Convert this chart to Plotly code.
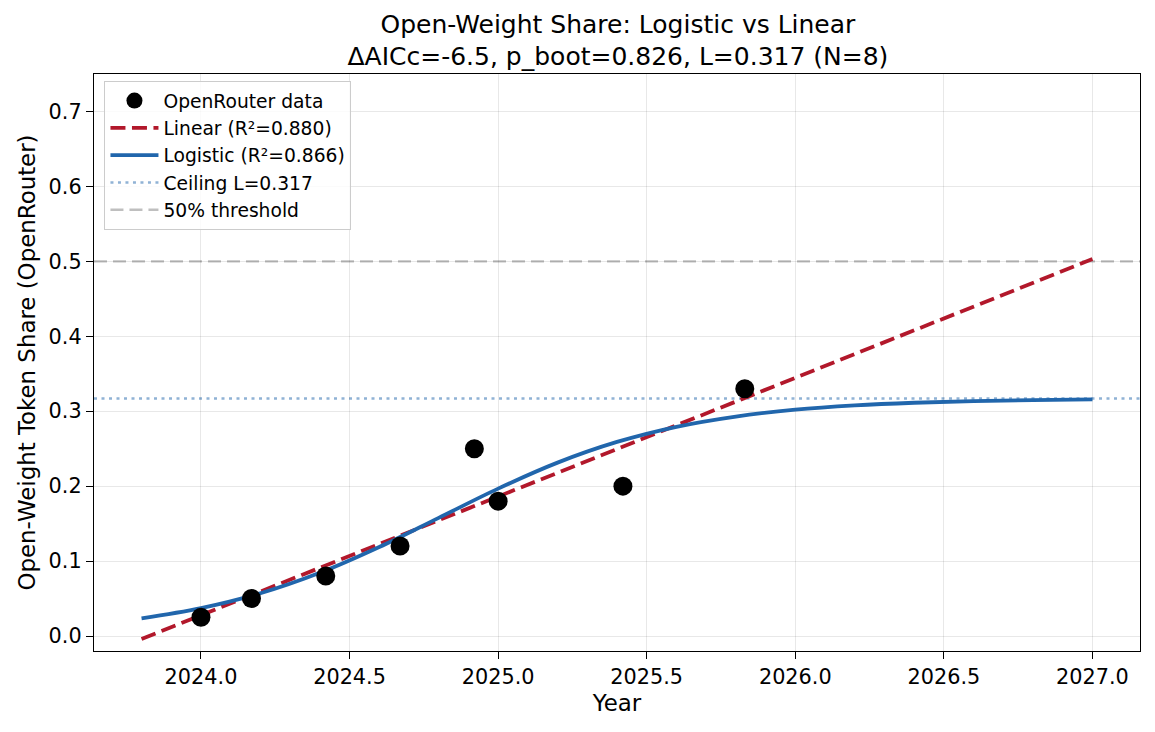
import plotly.graph_objects as go

# Observed OpenRouter open-weight token share
obs_year = [2024.0, 2024.17, 2024.42, 2024.67, 2024.92, 2025.0, 2025.42, 2025.83]
obs_share = [0.025, 0.05, 0.08, 0.12, 0.25, 0.18, 0.20, 0.33]

# Linear fit line (end points)
lin_year = [2023.8, 2027.0]
lin_share = [-0.004, 0.503]

# Logistic fit curve
log_year = [2023.8, 2024.0, 2024.2, 2024.4, 2024.6, 2024.8, 2025.0, 2025.2, 2025.4,
            2025.6, 2025.8, 2026.0, 2026.2, 2026.4, 2026.6, 2026.8, 2027.0]
log_share = [0.0236, 0.0372, 0.0571, 0.0844, 0.1188, 0.1577, 0.1967, 0.2314, 0.2590,
             0.2792, 0.2929, 0.3020, 0.3077, 0.3113, 0.3135, 0.3149, 0.3157]

ceiling = 0.317
threshold = 0.5

x_ticks = [2024.0, 2024.5, 2025.0, 2025.5, 2026.0, 2026.5, 2027.0]
y_ticks = [0.0, 0.1, 0.2, 0.3, 0.4, 0.5, 0.6, 0.7]

fig = go.Figure()

fig.add_trace(go.Scatter(x=lin_year, y=lin_share, mode="lines", name="Linear (R²=0.880)",
                         line=dict(color="#b2182b", width=3.8, dash="15px,6.5px"), legendrank=2))
fig.add_trace(go.Scatter(x=log_year, y=log_share, mode="lines", name="Logistic (R²=0.866)",
                         line=dict(color="#2166ac", width=3.8, shape="spline"), legendrank=3))
fig.add_trace(go.Scatter(x=obs_year, y=obs_share, mode="markers", name="OpenRouter data",
                         marker=dict(color="black", size=19), legendrank=1))

fig.add_shape(type="line", xref="paper", x0=0, x1=1, y0=ceiling, y1=ceiling,
              line=dict(color="rgba(33,102,172,0.5)", width=2.6, dash="3px,4.5px"),
              layer="below", showlegend=True, name="Ceiling L=0.317", legendrank=4)
fig.add_shape(type="line", xref="paper", x0=0, x1=1, y0=threshold, y1=threshold,
              line=dict(color="rgba(128,128,128,0.5)", width=2.4, dash="13px,6px"),
              layer="below", showlegend=True, name="50% threshold", legendrank=5)

fig.update_layout(
    width=1155, height=732,
    template="plotly_white",
    font=dict(family="DejaVu Sans", size=20.8, color="black"),
    title=dict(text="Open-Weight Share: Logistic vs Linear<br>ΔAICc=-6.5, p_boot=0.826, L=0.317 (N=8)",
               x=0.535, xanchor="center", y=0.955, yanchor="middle", font=dict(size=25)),
    margin=dict(l=94, r=15, t=74, b=81),
    plot_bgcolor="white",
    showlegend=True,
    legend=dict(x=0.01, y=0.988, xanchor="left", yanchor="top", bgcolor="rgba(255,255,255,0.8)",
                bordercolor="#cccccc", borderwidth=1, font=dict(size=18.7), tracegroupgap=0,
                itemwidth=48),
)

fig.update_xaxes(range=[2023.64, 2027.16], tickvals=x_ticks, tickformat=".1f",
                 title=dict(text="Year", font=dict(size=22.9), standoff=6),
                 showline=True, linecolor="black", linewidth=1.4, mirror=True,
                 ticks="outside", ticklen=7, tickwidth=1.4, tickcolor="black",
                 showgrid=True, gridcolor="rgba(0,0,0,0.09)", zeroline=False)
fig.update_yaxes(range=[-0.02, 0.75], tickvals=y_ticks, tickformat=".1f",
                 title=dict(text="Open-Weight Token Share (OpenRouter)", font=dict(size=22.9), standoff=6),
                 showline=True, linecolor="black", linewidth=1.4, mirror=True,
                 ticks="outside", ticklen=7, tickwidth=1.4, tickcolor="black",
                 showgrid=True, gridcolor="rgba(0,0,0,0.09)", zeroline=False)

fig.write_html("out.html", config={"displayModeBar": False},
               post_script="document.body.style.margin='0';")
